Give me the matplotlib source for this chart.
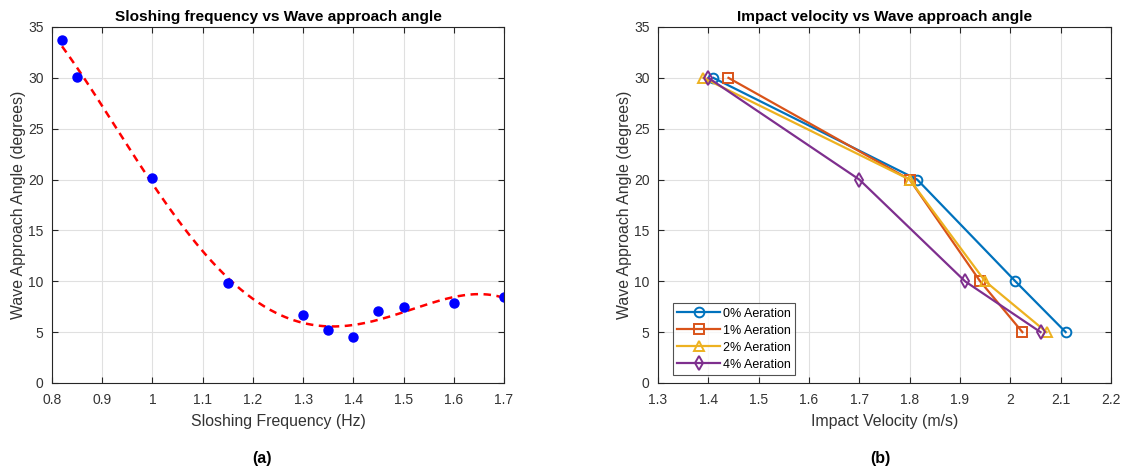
import numpy as np
import matplotlib
matplotlib.use("Agg")
import matplotlib.pyplot as plt

plt.rcParams['font.family'] = ['Liberation Sans', 'DejaVu Sans']

# Left panel data
freq = [0.82, 0.85, 1.00, 1.15, 1.30, 1.35, 1.40, 1.45, 1.50, 1.60, 1.70]
angle_a = [33.7, 30.1, 20.2, 9.8, 6.7, 5.2, 4.5, 7.1, 7.5, 7.9, 8.5]
fit_degree = 4

# Right panel data
angles_b = [30, 20, 10, 5]
vel_0 = [1.41, 1.815, 2.01, 2.11]
vel_1 = [1.44, 1.80, 1.94, 2.024]
vel_2 = [1.39, 1.80, 1.95, 2.072]
vel_4 = [1.40, 1.70, 1.91, 2.06]
series_labels = ['0% Aeration', '1% Aeration', '2% Aeration', '4% Aeration']

C_AX = '#262626'
C_TXT = '#333333'
GRID = '#e0e0e0'

fig = plt.figure(figsize=(11.27, 4.71), dpi=100)
ax1 = fig.add_axes([52/1127, 1-383/471, (504-52)/1127, (383-27)/471])
ax2 = fig.add_axes([658/1127, 1-383/471, (1111-658)/1127, (383-27)/471])

def style(ax):
    ax.grid(True, color=GRID, linewidth=0.8)
    ax.set_axisbelow(True)
    for s in ax.spines.values():
        s.set_color(C_AX)
        s.set_linewidth(0.8)
    ax.tick_params(direction='in', top=True, right=True, colors=C_AX,
                   labelsize=10, length=4, width=0.8, labelcolor=C_TXT)
    ax.tick_params(axis='x', pad=7)
    ax.tick_params(axis='y', pad=6)

# Left
coef = np.polyfit(freq, angle_a, fit_degree)
xf = np.linspace(min(freq), max(freq), 300)
ax1.plot(xf, np.polyval(coef, xf), '--', color='red', linewidth=1.8, dashes=(3, 2.2))
ax1.plot(freq, angle_a, 'o', color='blue', markersize=6.5, linestyle='none')
ax1.set_xlim(0.8, 1.7)
ax1.set_ylim(0, 35)
ax1.set_xticks(np.arange(0.8, 1.71, 0.1))
ax1.set_xticklabels(['0.8', '0.9', '1', '1.1', '1.2', '1.3', '1.4', '1.5', '1.6', '1.7'])
ax1.set_yticks(range(0, 36, 5))
ax1.set_xlabel('Sloshing Frequency (Hz)', fontsize=11.4, color=C_TXT, labelpad=5)
ax1.set_ylabel('Wave Approach Angle (degrees)', fontsize=11.4, color=C_TXT, labelpad=1.5)
ax1.set_title('Sloshing frequency vs Wave approach angle', fontsize=11.1, fontweight='bold', pad=4)
style(ax1)

# Right
colors = ['#0072BD', '#D95319', '#EDB120', '#7E2F8E']
markers = ['o', 's', '^', 'd']
for v, c, m, lab in zip([vel_0, vel_1, vel_2, vel_4], colors, markers, series_labels):
    ax2.plot(v, angles_b, color=c, marker=m, markerfacecolor='none', markeredgecolor=c,
             markersize=7, linewidth=1.6, markeredgewidth=1.4, label=lab)
ax2.set_xlim(1.3, 2.2)
ax2.set_ylim(0, 35)
ax2.set_xticks(np.arange(1.3, 2.21, 0.1))
ax2.set_xticklabels(['1.3', '1.4', '1.5', '1.6', '1.7', '1.8', '1.9', '2', '2.1', '2.2'])
ax2.set_yticks(range(0, 36, 5))
ax2.set_xlabel('Impact Velocity (m/s)', fontsize=11.4, color=C_TXT, labelpad=5)
ax2.set_ylabel('Wave Approach Angle (degrees)', fontsize=11.4, color=C_TXT, labelpad=1.5)
ax2.set_title('Impact velocity vs Wave approach angle', fontsize=11.1, fontweight='bold', pad=4)
style(ax2)
leg = ax2.legend(loc='lower left', bbox_to_anchor=(0.033, 0.022), fontsize=9, frameon=True,
                 fancybox=False, edgecolor=C_AX, handlelength=3.4, borderpad=0.35,
                 labelspacing=0.4, handletextpad=0.25, borderaxespad=0)
leg.get_frame().set_linewidth(0.8)

fig.text(262/1127, 1-458/471, '(a)', ha='center', va='center', fontsize=11.5, fontweight='bold')
fig.text(880/1127, 1-458/471, '(b)', ha='center', va='center', fontsize=11.5, fontweight='bold')

fig.savefig('out.png', dpi=100, facecolor='white')
